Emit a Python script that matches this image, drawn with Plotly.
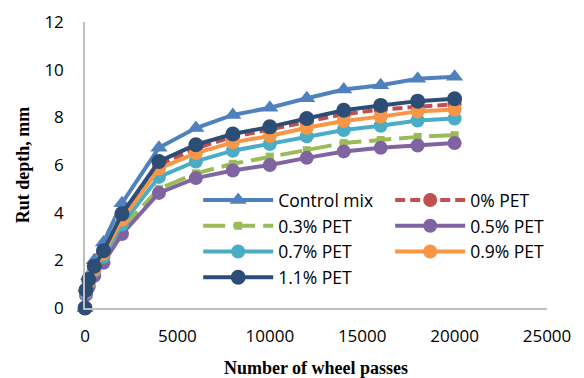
import plotly.graph_objects as go

passes = [0, 50, 200, 500, 1000, 2000, 4000, 6000, 8000, 10000, 12000, 14000, 16000, 18000, 20000]

series_names = ["Control mix", "0% PET", "0.3% PET", "0.5% PET", "0.7% PET", "0.9% PET", "1.1% PET"]
control_mix = [0, 0.85, 1.35, 2.0, 2.75, 4.4, 6.72, 7.55, 8.1, 8.4, 8.8, 9.17, 9.35, 9.62, 9.7]
pet_0_0 = [0, 0.72, 1.15, 1.7, 2.35, 3.85, 6.0, 6.7, 7.18, 7.5, 7.8, 8.13, 8.33, 8.42, 8.55]
pet_0_3 = [0, 0.6, 0.95, 1.45, 2.05, 3.35, 5.0, 5.65, 6.05, 6.35, 6.62, 6.92, 7.05, 7.18, 7.25]
pet_0_5 = [0, 0.55, 0.9, 1.35, 1.9, 3.1, 4.83, 5.45, 5.77, 6.0, 6.3, 6.57, 6.72, 6.82, 6.92]
pet_0_7 = [0, 0.65, 1.05, 1.55, 2.15, 3.5, 5.5, 6.15, 6.6, 6.88, 7.2, 7.47, 7.65, 7.87, 7.95]
pet_0_9 = [0, 0.7, 1.1, 1.62, 2.28, 3.7, 5.85, 6.5, 6.95, 7.22, 7.56, 7.85, 8.03, 8.25, 8.33]
pet_1_1 = [0, 0.75, 1.2, 1.75, 2.4, 3.95, 6.15, 6.85, 7.3, 7.6, 7.95, 8.3, 8.5, 8.68, 8.78]

x_ticks = [0, 5000, 10000, 15000, 20000, 25000]
y_ticks = [0, 2, 4, 6, 8, 10, 12]

series_values = [control_mix, pet_0_0, pet_0_3, pet_0_5, pet_0_7, pet_0_9, pet_1_1]
colors = ["#4F81BD", "#C0504D", "#9BBB59", "#8064A2", "#4BACC6", "#F79646", "#2C4D75"]
symbols = ["triangle-up", "circle", "square", "circle", "circle", "circle", "circle"]
msizes = [15, 14, 8, 14, 14, 14, 15]
dashes = ["solid", "10px,5px", "22px,8px", "solid", "solid", "solid", "solid"]
leg_widths = [107, 95, 107, 95, 107, 95, 107]

fig = go.Figure()
for name, vals, c, s, ms, d, lw in zip(series_names, series_values, colors, symbols, msizes, dashes, leg_widths):
    fig.add_trace(go.Scatter(
        x=passes, y=vals, name=name, mode="lines+markers",
        line=dict(color=c, width=4, dash=d),
        marker=dict(color=c, symbol=s, size=ms),
        cliponaxis=False, legendwidth=lw,
    ))

tick_font = dict(family="Open Sans", size=17, color="#000000")
title_font = dict(family="Liberation Serif", size=18, color="#000000")

fig.update_layout(
    width=584, height=378,
    margin=dict(l=85, r=37, t=22, b=70, autoexpand=False),
    plot_bgcolor="white", paper_bgcolor="white",
    showlegend=True,
    legend=dict(
        orientation="h", x=0.245, y=0.44, xanchor="left", yanchor="top",
        itemwidth=70, font=dict(family="Open Sans", size=17.5, color="#000000"),
        bgcolor="rgba(0,0,0,0)", traceorder="normal",
    ),
    xaxis=dict(
        range=[0, 25000], tickvals=x_ticks, ticktext=[str(v) for v in x_ticks],
        showgrid=False, zeroline=False, showline=True, linecolor="#BFBFBF", linewidth=1.5,
        ticks="", tickfont=tick_font, ticklabelstandoff=12, automargin=False,
        title=dict(text="<b>Number of wheel passes</b>", font=title_font, standoff=17),
    ),
    yaxis=dict(
        range=[0, 12], tickvals=y_ticks, ticktext=[str(v) for v in y_ticks],
        showgrid=False, zeroline=False, showline=True, linecolor="#BFBFBF", linewidth=1.5,
        ticks="", tickfont=tick_font, ticklabelstandoff=16, automargin=False,
        title=dict(text="<b>Rut depth, mm</b>", font=title_font, standoff=10),
    ),
)

fig.write_html("out.html")
